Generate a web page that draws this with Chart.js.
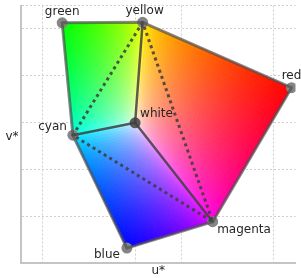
<!DOCTYPE html>
<html>
<head>
<meta charset="utf-8">
<script src="https://cdn.jsdelivr.net/npm/chart.js@4.4.1/dist/chart.umd.min.js"></script>
<style>
  html, body { margin: 0; padding: 0; background: #fff; }
  #wrap { width: 301px; height: 278px; }
</style>
</head>
<body>
<div id="wrap"><canvas id="gamutChart" width="301" height="278"></canvas></div>
<script>
// sRGB gamut corners in CIE L*u*v* (u*, v*)
const vertexNames = ["green", "yellow", "red", "cyan", "white", "magenta", "blue"];
const uValues = [-78.8, 8.1, 169.0, -67.2, 0.0, 83.8, -8.9];
const vValues = [106.5, 107.1, 37.4, -13.2, 0.0, -105.3, -133.4];

// edges between corners
const hullPath = ["green", "yellow", "red", "magenta", "blue", "cyan", "green"];
const spokes = [["white", "yellow"], ["white", "cyan"], ["white", "magenta"]];
const dottedPath = ["yellow", "cyan", "magenta", "yellow"];

// the three cube faces that touch white
const faces = [
  ["white", "yellow", "red", "magenta"],
  ["white", "yellow", "green", "cyan"],
  ["white", "cyan", "blue", "magenta"],
];

const uTicks = [-100, 0, 50, 150];
const vTicks = [-100, -50, 0, 50, 100, 125];

const vertexRgb = {
  green: [0, 255, 0], yellow: [255, 255, 0], red: [255, 0, 0], cyan: [0, 255, 255],
  white: [255, 255, 255], magenta: [255, 0, 255], blue: [0, 0, 255],
};

// label placement: [dx, dy, align]
const labelPos = {
  green: [0, -8, "center"], yellow: [2, -8, "center"], red: [0, -9, "center"],
  cyan: [-6, -5.5, "right"], white: [5, -5.5, "left"],
  magenta: [4.5, 11, "left"], blue: [-7, 9.5, "right"],
};

const pt = (name) => {
  const i = vertexNames.indexOf(name);
  return { x: uValues[i], y: vValues[i] };
};

const gamutFill = {
  id: "gamutFill",
  beforeDatasetsDraw(chart) {
    const { ctx, chartArea, scales: { x, y } } = chart;
    const n = 40;
    const sat = 0.6; // colours move away from white faster than position
    ctx.save();
    ctx.beginPath();
    ctx.rect(chartArea.left, chartArea.top, chartArea.width, chartArea.height);
    ctx.clip();
    faces.forEach((face) => {
      const P = face.map((f) => { const p = pt(f); return [x.getPixelForValue(p.x), y.getPixelForValue(p.y)]; });
      const C = face.map((f) => vertexRgb[f]);
      const mix = (arr, s, t, k) =>
        (1 - s) * (1 - t) * arr[0][k] + s * (1 - t) * arr[1][k] + s * t * arr[2][k] + (1 - s) * t * arr[3][k];
      const pos = (s, t) => [mix(P, s, t, 0), mix(P, s, t, 1)];
      for (let i = 0; i < n; i++) {
        for (let j = 0; j < n; j++) {
          const s0 = i / n, s1 = (i + 1) / n, t0 = j / n, t1 = (j + 1) / n;
          const sc = Math.pow((s0 + s1) / 2, sat), tc = Math.pow((t0 + t1) / 2, sat);
          const col = `rgb(${[0, 1, 2].map((k) => Math.round(mix(C, sc, tc, k))).join(",")})`;
          const a = pos(s0, t0), b = pos(s1, t0), c = pos(s1, t1), d = pos(s0, t1);
          ctx.beginPath();
          ctx.moveTo(a[0], a[1]);
          ctx.lineTo(b[0], b[1]);
          ctx.lineTo(c[0], c[1]);
          ctx.lineTo(d[0], d[1]);
          ctx.closePath();
          ctx.fillStyle = col;
          ctx.strokeStyle = col;
          ctx.lineWidth = 0.8;
          ctx.fill();
          ctx.stroke();
        }
      }
    });
    ctx.restore();
  },
};

const cornerLabels = {
  id: "cornerLabels",
  afterDatasetsDraw(chart) {
    const { ctx, chartArea, scales: { x, y } } = chart;
    ctx.save();
    ctx.font = '12px "DejaVu Sans"';
    ctx.fillStyle = "#262626";
    ctx.textBaseline = "alphabetic";
    vertexNames.forEach((name) => {
      const p = pt(name);
      const [dx, dy, align] = labelPos[name];
      ctx.textAlign = align;
      ctx.fillText(name, x.getPixelForValue(p.x) + dx, y.getPixelForValue(p.y) + dy);
    });
    // axis names
    ctx.textAlign = "center";
    ctx.fillText("u*", (chartArea.left + chartArea.right) / 2, 273.5);
    ctx.fillText("v*", 12, 140);
    ctx.restore();
  },
};

const pathData = (names) => names.map(pt);

const lineDs = (data, color, width, dash, cap) => ({
  type: "scatter",
  data: data,
  showLine: true,
  borderColor: color,
  borderWidth: width,
  borderDash: dash || [],
  borderCapStyle: cap || "round",
  borderJoinStyle: "round",
  pointRadius: 0,
  fill: false,
});

const datasets = [
  lineDs(pathData(hullPath), "rgba(80,80,80,0.68)", 3),
  ...spokes.map((s) => lineDs(pathData(s), "rgba(65,65,65,0.85)", 2.5)),
  lineDs(pathData(dottedPath), "rgba(60,60,60,0.85)", 3, [3, 3.5], "butt"),
  {
    type: "scatter",
    data: vertexNames.map(pt),
    pointRadius: 5.5,
    pointHoverRadius: 5.5,
    pointBackgroundColor: vertexNames.map((n) => (n === "white" ? "#5a5a5a" : "#858585")),
    pointBorderWidth: 0,
  },
];

new Chart(document.getElementById("gamutChart"), {
  type: "scatter",
  data: { datasets: datasets },
  options: {
    responsive: false,
    animation: false,
    layout: { padding: { left: 21, right: 0, top: 3, bottom: 15 } },
    plugins: { legend: { display: false }, tooltip: { enabled: false } },
    scales: {
      x: {
        type: "linear",
        min: -123.3,
        max: 173.3,
        afterBuildTicks: (scale) => { scale.ticks = uTicks.map((v) => ({ value: v })); },
        ticks: { display: false },
        grid: { color: "#d0d0d0", lineWidth: 1, drawTicks: false },
        border: { color: "#c4c4c4", width: 2, dash: [2, 2] },
      },
      y: {
        type: "linear",
        min: -149.3,
        max: 125,
        afterBuildTicks: (scale) => { scale.ticks = vTicks.map((v) => ({ value: v })); },
        ticks: { display: false },
        grid: { color: "#d0d0d0", lineWidth: 1, drawTicks: false },
        border: { color: "#c4c4c4", width: 2, dash: [2, 2] },
      },
    },
  },
  plugins: [gamutFill, cornerLabels],
});
</script>
</body>
</html>
